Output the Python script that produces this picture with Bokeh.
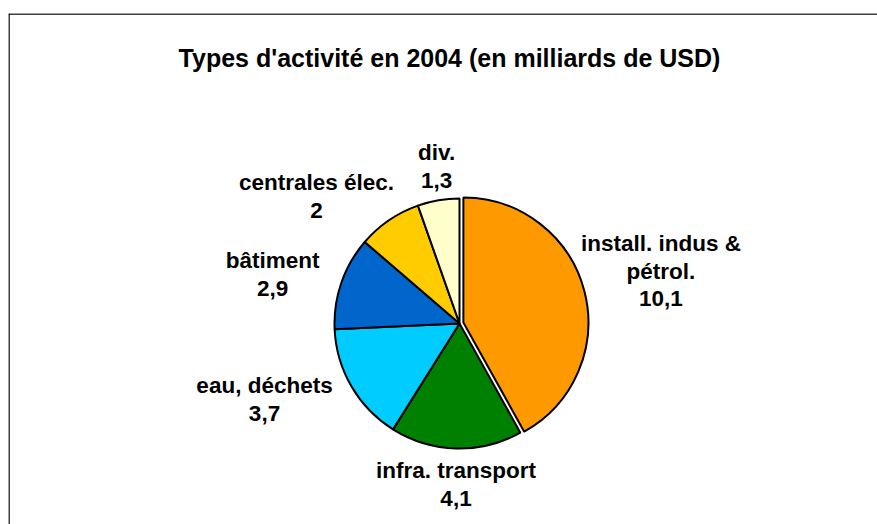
import textwrap
import numpy as np
from bokeh.plotting import figure
from bokeh.models import ColumnDataSource, Range1d, Span
from bokeh.core.properties import value
from bokeh.embed import file_html
from bokeh.resources import INLINE

# ---- data ----
title_text = "Types d'activité en 2004 (en milliards de USD)"
categories = ["install. indus & pétrol.", "infra. transport", "eau, déchets",
              "bâtiment", "centrales élec.", "div."]
values = [10.1, 4.1, 3.7, 2.9, 2.0, 1.3]
colors = ["#FF9900", "#008000", "#00CCFF", "#0066CC", "#FFCC00", "#FFFFCC"]
exploded = [True, False, False, False, False, False]

# ---- layout constants (pixels) ----
W, H = 877, 524
LEFT, TOP = 8, 13
FW, FH = W - LEFT, H - TOP
CX, CY = 451, 201          # pie centre in frame pixels
R = 125
EXPLODE = 4
FONT = "Liberation Sans"
LABEL_SIZE = 22.5
LINE_PITCH = 25

# Arial/Liberation Sans Bold advance widths (per 1000 em)
CW = {" ": 278, "&": 722, "'": 238, ",": 278, ".": 278, "a": 556, "â": 556, "b": 611,
      "c": 556, "d": 611, "e": 556, "é": 556, "f": 333, "h": 611, "i": 278, "l": 278,
      "m": 889, "n": 611, "o": 611, "p": 611, "r": 389, "s": 556, "t": 333, "u": 611,
      "v": 556}


def text_width(s, size):
    return sum(CW.get(ch, 556) for ch in s) / 1000.0 * size


def fmt(v):
    return str(int(v)) if float(v).is_integer() else f"{v}".replace(".", ",")


vals = np.array(values, dtype=float)
frac = vals / vals.sum() * 2 * np.pi
starts = np.pi / 2 - np.concatenate([[0], np.cumsum(frac)[:-1]])
ends = starts - frac
mids = (starts + ends) / 2

xs = CX + np.where(exploded, EXPLODE * np.cos(mids), 0.0)
ys = CY + np.where(exploded, EXPLODE * np.sin(mids), 0.0)

# label placement (outside end)
lab_text, lab_x, lab_y = [], [], []
for cat, v, m in zip(categories, values, mids):
    lines = textwrap.wrap(cat, 17) + [fmt(v)]
    w = max(text_width(l, LABEL_SIZE) for l in lines)
    h = len(lines) * 28
    c, s = np.cos(m), np.sin(m)
    pad = 8 - 8 * max(0.0, c) ** 2 + 16 * max(0.0, -c)
    px, py = CX + (R + pad) * c, CY + (R + pad) * s
    cx = np.sign(c) * np.clip((abs(c) - 0.2) / 0.45, 0, 1)
    cy = s * (1 + c)
    lab_x.append(px + w / 2 * cx)
    lab_y.append(py + h / 2 * cy)
    lab_text.append("\n".join(lines))

src = ColumnDataSource(dict(x=xs, y=ys, start=starts, end=ends, color=colors,
                            cat=categories, val=values))
lsrc = ColumnDataSource(dict(x=lab_x, y=lab_y, text=lab_text))

p = figure(width=W, height=H, output_backend="svg", toolbar_location=None,
           x_range=Range1d(0, FW), y_range=Range1d(0, FH),
           x_axis_type=None, y_axis_type=None,
           min_border_left=LEFT, min_border_right=0, min_border_top=TOP, min_border_bottom=0)
p.grid.visible = False
p.outline_line_color = None
p.background_fill_color = "white"
p.border_fill_color = "white"

p.wedge(x="x", y="y", radius=R, start_angle="start", end_angle="end", direction="clock",
        fill_color="color", line_color="black", line_width=2, source=src)

p.text(x="x", y="y", text="text", source=lsrc, text_font=value(FONT),
       text_font_style="bold", text_font_size=f"{LABEL_SIZE}px", text_align="center",
       text_baseline="middle", text_line_height=LINE_PITCH / LABEL_SIZE, text_color="black")

p.text(x=[CX - 10], y=[FH - 44], text=[title_text], text_font=value(FONT),
       text_font_style="bold", text_font_size="25px", text_align="center",
       text_baseline="alphabetic", text_color="black")

p.add_layout(Span(location=FH - 0.5, dimension="width", line_color="black", line_width=1.5))
p.add_layout(Span(location=0.5, dimension="height", line_color="black", line_width=1.5))

open("out.html", "w").write(file_html(p, INLINE))
